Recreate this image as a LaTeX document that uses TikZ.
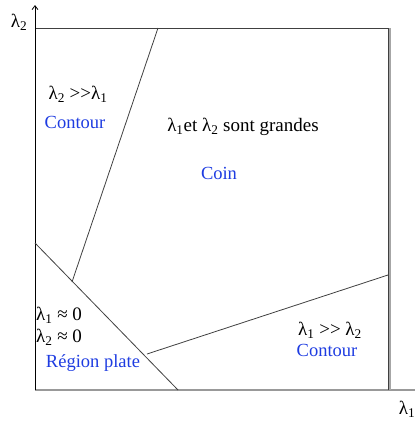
\documentclass[tikz,border=0pt]{standalone}
\usepackage{fontspec}
\setmainfont{Liberation Serif}[Ligatures=ResetAll]
\newfontfamily\tms{Liberation Serif}[Ligatures=ResetAll]
\usetikzlibrary{arrows.meta}
\definecolor{lblue}{RGB}{30,60,225}
\definecolor{lgray}{RGB}{64,64,64}
\tikzset{
  txt/.style={font=\tms\fontsize{19}{22}\selectfont, inner sep=0pt, text=black},
  btxt/.style={font=\tms\fontsize{18.5}{22}\selectfont, inner sep=0pt, text=lblue},
  sep/.style={draw=lgray, line width=0.8pt},
}
\newcommand{\lam}[1]{λ\textsubscript{#1}}
\newcommand{\muchgt}{>\kern0pt>}
\begin{document}
\begin{tikzpicture}[x=1pt,y=-1pt]
\useasboundingbox (0,0) rectangle (417,426);
% box
\coordinate (tl) at (35,28);
\coordinate (tr) at (388,28);
\coordinate (br) at (388,390);
\coordinate (bl) at (35,390);
\coordinate (ytop) at (35,5);
\coordinate (xend) at (415,390);
\draw[gray!80, line width=2pt] (bl) -- (xend);
\draw[gray!70, line width=2.5pt] ([xshift=1.5pt]tr) -- ([xshift=1.5pt]br);
\draw[lgray, line width=0.8pt] (tl) -- (tr) -- (br);
\draw[black, line width=0.8pt, -{Straight Barb[length=4pt,width=6pt]}] (bl) -- (ytop);
% separators
\coordinate (a1) at (158,28);
\coordinate (a2) at (72,282);
\coordinate (b1) at (35,243);
\coordinate (b2) at (178,390);
\coordinate (c1) at (147,354);
\coordinate (c2) at (388,275);
\draw[sep] (a1) -- (a2);
\draw[sep] (b1) -- (b2);
\draw[sep] (c1) -- (c2);
% axis labels
\node[txt] (ly) at (19,22) {\lam{2}};
\node[txt] (lx) at (407,409) {\lam{1}};
% texts
\node[txt] (t1) at (78,94) {\lam{2} \muchgt{}\lam{1}};
\node[btxt] (t1b) at (75,122) {Contour};
\node[txt] (t2) at (243,127) {\lam{1}et \lam{2} sont grandes};
\node[btxt] (t2b) at (219,173) {Coin};
\node[txt, anchor=west] (t3) at (36,315) {\lam{1} ≈ 0};
\node[txt, anchor=west] (t4) at (36,337) {\lam{2} ≈ 0};
\node[btxt] (t4b) at (93,363) {Région plate};
\node[txt] (t5) at (330,330) {\lam{1} \muchgt{} \lam{2}};
\node[btxt] (t5b) at (327,350) {Contour};
\end{tikzpicture}
\end{document}
